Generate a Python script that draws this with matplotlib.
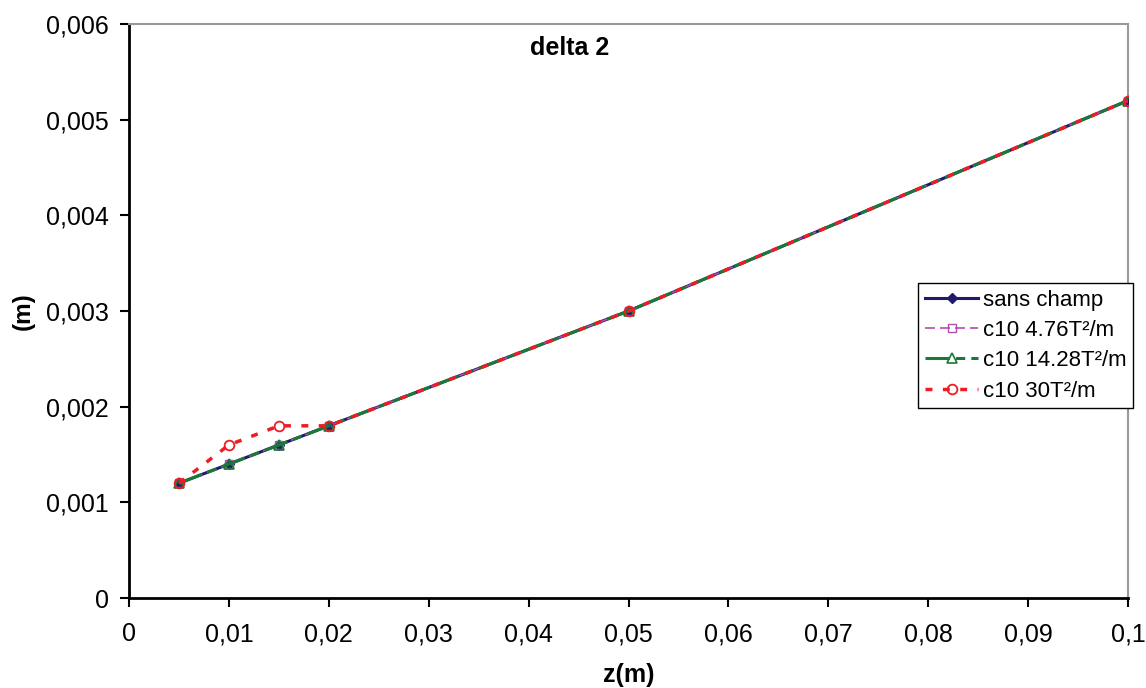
import matplotlib
matplotlib.use("Agg")
import matplotlib.pyplot as plt
from matplotlib.ticker import FuncFormatter, MultipleLocator

plt.rcParams['font.family'] = ['Liberation Sans', 'DejaVu Sans']

z = [0.005, 0.01, 0.015, 0.02, 0.05, 0.1]
sans_champ = [0.0012, 0.0014, 0.0016, 0.0018, 0.003, 0.0052]
c10_476 = [0.0012, 0.0014, 0.0016, 0.0018, 0.003, 0.0052]
c10_1428 = [0.0012, 0.0014, 0.0016, 0.0018, 0.003, 0.0052]
c10_30 = [0.0012, 0.0016, 0.0018, 0.0018, 0.003, 0.0052]


def comma_fmt(v, pos):
    if abs(v) < 1e-12:
        return "0"
    s = ("%.4f" % v).rstrip("0").rstrip(".")
    return s.replace(".", ",")


fig = plt.figure(figsize=(11.46, 6.88), dpi=100)
ax = fig.add_axes([0.1126, 0.1308, 0.8717, 0.8343])

ax.plot(z, sans_champ, color='#1f1a6e', lw=2.2, marker='D', ms=5,
        label='sans champ', zorder=3)
ax.plot(z, c10_476, color='#b04fb0', lw=1.2, ls=(0, (6, 3)), marker='s', ms=6,
        mfc='none', mec='#b04fb0', label='c10 4.76T²/m', zorder=4)
ax.plot(z, c10_1428, color='#1a7a35', lw=2.2, ls=(0, (8, 2, 3, 2)), marker='^', ms=7,
        mfc='none', mec='#1a7a35', mew=1.2, label='c10 14.28T²/m', zorder=5)
ax.plot(z, c10_30, color='#ee1c24', lw=2.5, ls=(0, (2, 3)), marker='o', ms=7,
        mfc='none', mec='#ee1c24', mew=1.3, label='c10 30T²/m', zorder=6)

ax.set_xlim(0, 0.1)
ax.set_ylim(0, 0.006)
ax.xaxis.set_major_locator(MultipleLocator(0.01))
ax.yaxis.set_major_locator(MultipleLocator(0.001))
ax.xaxis.set_major_formatter(FuncFormatter(comma_fmt))
ax.yaxis.set_major_formatter(FuncFormatter(comma_fmt))
ax.tick_params(axis='both', direction='out', length=6.5, width=1.5, labelsize=18, pad=8)
ax.tick_params(axis='x', pad=11)

for side in ['left', 'bottom']:
    ax.spines[side].set_linewidth(2)
    ax.spines[side].set_color('black')
for side in ['top', 'right']:
    ax.spines[side].set_linewidth(1.5)
    ax.spines[side].set_color('#999999')

ax.set_xlabel('z(m)', fontsize=18, fontweight='bold', labelpad=12)
ax.set_ylabel('(m)', fontsize=17.5, fontweight='bold', labelpad=8)
ax.text(0.0441, 0.00575, 'delta 2', fontsize=18, fontweight='bold', ha='center', va='center')

leg = ax.legend(loc='upper left', bbox_to_anchor=(0.79, 0.549), fontsize=16,
                frameon=True, fancybox=False, edgecolor='black', framealpha=1,
                handlelength=2.4, borderpad=0.3, labelspacing=0.42, handletextpad=0.2,
                borderaxespad=0)
leg.get_frame().set_linewidth(1)

fig.savefig('out.png', dpi=100)
